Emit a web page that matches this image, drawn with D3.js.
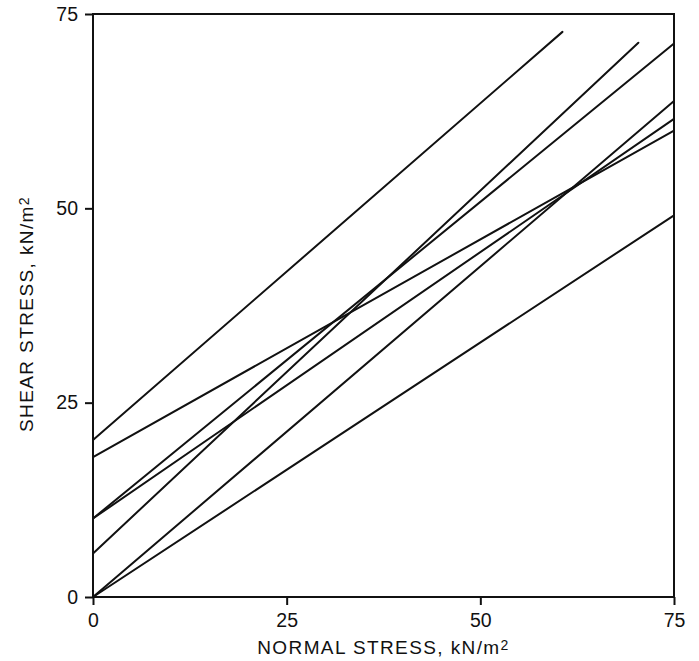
<!DOCTYPE html>
<html>
<head>
<meta charset="utf-8">
<script src="https://cdn.jsdelivr.net/npm/d3@7"></script>
<style>
  body { margin: 0; background: #fff; }
  svg text { font-family: "Liberation Sans", Arial, Helvetica, sans-serif; fill: #111; }
</style>
</head>
<body>
<div id="graph"></div>
<script>
// Failure envelopes: each line runs from (x0, y0) to (x1, y1) in kN/m2
var lineX0 = [0, 0, 0, 0, 0, 0, 0];
var lineY0 = [20.2, 18.0, 10.1, 10.1, 5.6, 0, 0];
var lineX1 = [60.6, 75, 75, 75, 70.4, 75, 75];
var lineY1 = [72.7, 60.0, 71.2, 61.5, 71.3, 63.8, 49.1];

var xTicks = [0, 25, 50, 75];
var yTicks = [0, 25, 50, 75];
var xTitle = "NORMAL STRESS, kN/m";
var yTitle = "SHEAR STRESS, kN/m";
var titleSup = "2";

var WIDTH = 699, HEIGHT = 661;
var LEFT = 93, RIGHT = 674, TOP = 14, BOTTOM = 597;
var INK = "#111";

let xscale = d3.scaleLinear().domain([0, 75]).range([LEFT, RIGHT]);
let yscale = d3.scaleLinear().domain([0, 75]).range([BOTTOM, TOP]);

let chart = d3.select("#graph")
              .append("svg")
                .attr("width", WIDTH)
                .attr("height", HEIGHT);

// frame
chart.append("rect")
     .attr("x", LEFT).attr("y", TOP)
     .attr("width", RIGHT - LEFT).attr("height", BOTTOM - TOP)
     .attr("fill", "none")
     .attr("stroke", INK)
     .attr("stroke-width", 2);

// axes
let x_axis = d3.axisBottom(xscale).tickValues(xTicks).tickSize(8).tickSizeOuter(0).tickPadding(8);
let y_axis = d3.axisLeft(yscale).tickValues(yTicks).tickSize(8).tickSizeOuter(0).tickPadding(7);

let xg = chart.append("g").attr("transform", "translate(0," + BOTTOM + ")").call(x_axis);
let yg = chart.append("g").attr("transform", "translate(" + LEFT + ",0)").call(y_axis);

[xg, yg].forEach(function (g) {
  g.select(".domain").remove();
  g.selectAll("line").attr("stroke", INK).attr("stroke-width", 2);
  g.selectAll("text").attr("font-size", 19.5).attr("fill", INK)
   .attr("font-family", "'Liberation Sans', Arial, sans-serif");
});

// lines
chart.append("g")
     .selectAll("line")
     .data(lineY0)
     .enter()
     .append("line")
       .attr("x1", function (d, i) { return xscale(lineX0[i]); })
       .attr("y1", function (d, i) { return yscale(lineY0[i]); })
       .attr("x2", function (d, i) { return xscale(lineX1[i]); })
       .attr("y2", function (d, i) { return yscale(lineY1[i]); })
       .attr("stroke", INK)
       .attr("stroke-width", 2)
       .attr("stroke-linecap", "round");

// axis titles (superscript 2 sits with its top at cap height)
function addTitle(g, label) {
  let t = g.append("text")
           .attr("text-anchor", "middle")
           .attr("font-size", 19)
           .attr("letter-spacing", 1.4);
  t.append("tspan").text(label);
  t.append("tspan").attr("font-size", 14).attr("dy", -4).text(titleSup);
}

addTitle(chart.append("g").attr("transform", "translate(" + ((LEFT + RIGHT) / 2) + ",654)"), xTitle);
addTitle(chart.append("g").attr("transform", "translate(33,314) rotate(-90)"), yTitle);
</script>
</body>
</html>
